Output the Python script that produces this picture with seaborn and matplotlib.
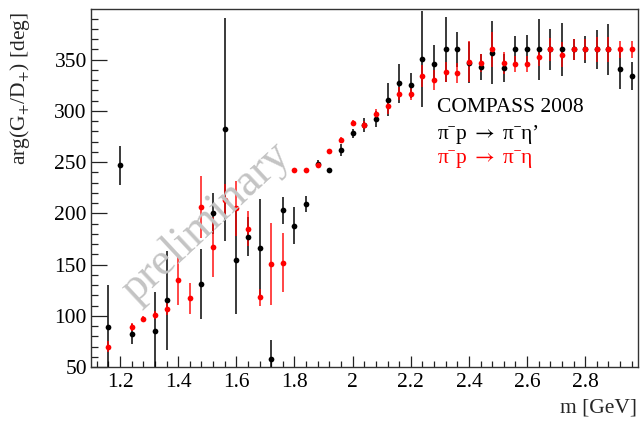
import numpy as np
import pandas as pd
import matplotlib
matplotlib.use("Agg")
import matplotlib.pyplot as plt
from matplotlib.ticker import MultipleLocator, FuncFormatter
import seaborn as sns

# Mass bin centres [GeV]
mass = [1.16, 1.20, 1.24, 1.28, 1.32, 1.36, 1.40, 1.44, 1.48, 1.52,
        1.56, 1.60, 1.64, 1.68, 1.72, 1.76, 1.80, 1.84, 1.88, 1.92,
        1.96, 2.00, 2.04, 2.08, 2.12, 2.16, 2.20, 2.24, 2.28, 2.32,
        2.36, 2.40, 2.44, 2.48, 2.52, 2.56, 2.60, 2.64, 2.68, 2.72,
        2.76, 2.80, 2.84, 2.88, 2.92, 2.96]

# Relative phase G+/D+ for pi- p -> pi- eta'  [deg]
phase_etap = [89, 247, 82, np.nan, 85, 115, np.nan, np.nan, 131, 200,
              282, 154, 177, 166, 58, 203, 188, 209, 248, 242,
              262, 278, 286, 292, 311, 327, 325, 351, 346, 360,
              360, 347, 343, 357, 342, 360, 360, 360, 360, 360,
              360, 360, 360, 360, 341, 334]
err_etap = [41, 19, 10, np.nan, 38, 48, np.nan, np.nan, 34, 20,
            109, 52, 19, 48, 18, 13, 18, 8, 4, 2,
            6, 4, 7, 8, 16, 19, 12, 47, 18, 32,
            17, 20, 13, 31, 14, 13, 14, 30, 20, 26,
            10, 13, 19, 25, 20, 14]

# Relative phase G+/D+ for pi- p -> pi- eta  [deg]
phase_eta = [70, np.nan, 89, 97, 101, 107, 135, 117, 206, 167,
             213, 205, 185, 118, 151, 152, 242, 242, 247, 261,
             272, 288, 286, 297, 305, 317, 317, 334, 330, 338,
             337, 348, 347, 360, 347, 346, 346, 353, 360, 355,
             360, 360, 360, 360, 360, 360]
err_eta = [5, np.nan, 4, 3, 4, 6, 24, 15, 30, 29,
           16, 27, 17, 8, 40, 29, 2, 2, 3, 2,
           3, 3, 4, 5, 8, 6, 6, 11, 10, 10,
           10, 20, 9, 17, 11, 8, 8, 9, 11, 12,
           10, 10, 12, 12, 8, 8]

channels = ["etap", "eta"]
colours = {"etap": "black", "eta": "#ff0000"}

frames = []
for ch, ph, er in [("etap", phase_etap, err_etap), ("eta", phase_eta, err_eta)]:
    frames.append(pd.DataFrame({"m": mass, "phase": ph, "err": er, "channel": ch}))
df = pd.concat(frames, ignore_index=True)

sns.set_theme(style="white")
plt.rcParams["font.family"] = ["Liberation Serif", "DejaVu Serif"]
plt.rcParams["mathtext.fontset"] = "stix"

fig = plt.figure(figsize=(6.4, 4.26), dpi=100)
ax = fig.add_axes([91 / 640, 1 - 367 / 426, (637.5 - 91) / 640, (367 - 9) / 426])

# watermark
fig.text(206 / 640, 1 - 222 / 426, "preliminary", rotation=43,
         ha="center", va="center", fontsize=33, color="#c4c4c4",
         family=["Liberation Serif", "DejaVu Serif"], zorder=0)
ax.set_facecolor("none")

for ch in channels:
    sub = df[df["channel"] == ch]
    ax.errorbar(sub["m"], sub["phase"], yerr=sub["err"], fmt="none",
                ecolor=colours[ch], elinewidth=1.2, capsize=0,
                alpha=0.85 if ch == "eta" else 0.9, zorder=2)
    sns.scatterplot(data=sub.dropna(), x="m", y="phase", color=colours[ch],
                    s=17, linewidth=0, ax=ax, zorder=3, legend=False)

ax.set_xlim(1.10, 2.98)
ax.set_ylim(50, 399.5)
ax.set_xlabel("")
ax.set_ylabel("")

ax.xaxis.set_major_locator(MultipleLocator(0.2))
ax.xaxis.set_minor_locator(MultipleLocator(0.04))
ax.yaxis.set_major_locator(MultipleLocator(50))
ax.yaxis.set_minor_locator(MultipleLocator(10))
ax.xaxis.set_major_formatter(FuncFormatter(lambda v, p: f"{v:g}"))
ax.yaxis.set_major_formatter(FuncFormatter(lambda v, p: f"{v:g}"))

ax.tick_params(axis="both", which="both", direction="in", colors="#222222",
               labelcolor="black", labelsize=15.5, width=0.9,
               bottom=True, left=True, top=False, right=False)
ax.tick_params(axis="y", which="major", length=11.5, pad=3)
ax.tick_params(axis="y", which="minor", length=5)
ax.tick_params(axis="x", which="major", length=8, pad=4)
ax.tick_params(axis="x", which="minor", length=4)

for sp in ax.spines.values():
    sp.set_visible(True)
    sp.set_color("#333333")
    sp.set_linewidth(1.0)

fig.text(20 / 640, 1 - 12 / 426, "arg(G$_{+}$/D$_{+}$) [deg]", rotation=90,
         ha="center", va="top", fontsize=15.5)
fig.text(637 / 640, 1 - 408 / 426, "m [GeV]", ha="right", va="center",
         fontsize=15.5)

fam = ["Liberation Serif", "DejaVu Serif"]
fig.text(437 / 640, 1 - 112 / 426, "COMPASS 2008", ha="left",
         va="baseline", fontsize=15.5, color="black", family=fam)
fig.text(437 / 640, 1 - 139 / 426, "π\u02c9p $\\rightarrow$ π\u02c9η\u2019",
         ha="left", va="baseline", fontsize=15.5, color="black", family=fam)
fig.text(437 / 640, 1 - 163 / 426, "π\u02c9p $\\rightarrow$ π\u02c9η",
         ha="left", va="baseline", fontsize=15.5, color="#ff0000", family=fam)

fig.savefig("out.png", dpi=100)
